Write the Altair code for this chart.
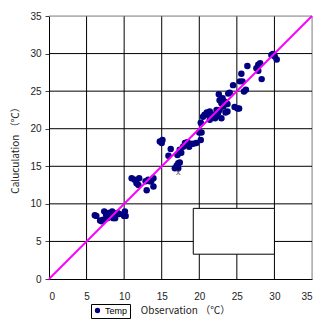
import altair as alt
import pandas as pd

obs = [6.1, 6.3, 6.8, 7.0, 7.2, 7.35, 7.6, 7.75, 7.9, 8.1, 8.4, 8.55, 8.6, 8.8, 9.1, 9.35, 10.0, 10.1, 10.2,
       11.0, 11.4, 11.65, 11.9, 12.0, 12.85, 13.0, 13.2, 13.4, 13.6, 13.9, 13.9,
       14.75, 15.0, 15.1,
       15.9, 16.2, 16.75, 17.0, 17.2, 17.2, 17.4, 17.1, 17.6, 17.4, 17.85, 18.1, 18.4, 18.65, 18.8, 19.2, 19.6,
       20.0, 20.3, 20.2,
       20.2, 20.5, 20.7, 21.0, 21.2, 21.4, 21.4, 21.6, 21.85, 22.1, 22.2, 22.3, 22.5, 22.6, 22.7, 22.7, 22.95,
       22.95, 23.1, 23.2, 23.4, 23.5, 23.75, 23.75, 23.85, 24.05,
       24.7, 25.1, 25.3, 24.5, 25.4, 25.6, 25.75, 25.95, 26.2, 26.4,
       27.6, 27.85, 28.1, 27.85, 28.3, 29.6, 29.8, 30.05, 30.3]
calc = [8.5, 8.4, 7.8, 7.7, 7.9, 9.0, 8.55, 8.1, 8.8, 8.3, 9.0, 8.1, 8.3, 8.1, 8.8, 8.65, 8.4, 9.0, 8.4,
        13.4, 13.2, 12.75, 12.5, 13.4, 13.0, 11.8, 13.2, 13.0, 13.0, 13.4, 12.3,
        18.3, 18.1, 18.5,
        16.4, 17.3, 14.75, 15.1, 15.4, 14.75, 15.5, 16.5, 16.8, 17.2, 17.6, 18.1, 18.2, 17.6, 18.0, 18.0, 18.1,
        19.5, 19.5, 18.5,
        20.8, 21.6, 21.85, 22.15, 21.85, 22.3, 21.2, 21.6, 21.85, 21.4, 21.6, 22.5, 22.1, 24.6, 23.8, 22.5, 23.4,
        21.4, 24.05, 22.95, 23.6, 22.15, 23.3, 22.3, 24.7, 24.8,
        22.9, 22.7, 22.7, 25.8, 26.3, 27.3, 26.3, 24.95, 25.2, 28.35,
        28.05, 28.5, 28.7, 27.7, 26.6, 29.8, 29.95, 29.6, 29.2]

series = ["Temp"] * len(obs)
line_vals = [0, 35]
box_x = [19.2]
box_x2 = [30.0]
box_y = [3.3]
box_y2 = [9.4]
cross_x = [17.2]
cross_y = [14.3]
ticks = [0, 5, 10, 15, 20, 25, 30, 35]
grid_vals = [5, 10, 15, 20, 25, 30, 35]
grid_cols = ["#000000", "#000000", "#000000", "#000000", "#000000", "#000000", "#8a8a8a"]

df = pd.DataFrame({"obs": obs, "calc": calc, "series": series})
line_df = pd.DataFrame({"obs": line_vals, "calc": line_vals})
box_df = pd.DataFrame({"obs": box_x, "obs2": box_x2, "calc": box_y, "calc2": box_y2})
cross_df = pd.DataFrame({"obs": cross_x, "calc": cross_y, "t": ["x"]})
grid_df = pd.DataFrame({"v": grid_vals, "c": grid_cols})

xscale = alt.Scale(domain=[0, 35], nice=False)
yscale = alt.Scale(domain=[0, 35], nice=False)

xaxis = alt.Axis(values=ticks, title="Observation （℃）", grid=False, domainColor="#000000",
                 tickSize=0, labelPadding=12, titlePadding=4, labelOverlap=False, titleX=136,
                 labelFont="Liberation Sans", labelFontSize=10, labelColor="#222222",
                 titleFont="Noto Sans CJK JP", titleFontSize=10, titleFontWeight="normal", titleColor="#222222")
yaxis = alt.Axis(values=ticks, title="Caluculation （℃）", grid=False, domainColor="#000000",
                 tickSize=4, tickColor="#444444", labelPadding=4, titlePadding=9, labelOverlap=False,
                 labelFont="Liberation Sans", labelFontSize=10, labelColor="#222222",
                 titleFont="Noto Sans CJK JP", titleFontSize=10, titleFontWeight="normal", titleColor="#222222")

X = alt.X("obs:Q", scale=xscale, axis=xaxis)
Y = alt.Y("calc:Q", scale=yscale, axis=yaxis)

vgrid = alt.Chart(grid_df).mark_rule(strokeWidth=1).encode(
    x=alt.X("v:Q", scale=xscale, axis=xaxis),
    color=alt.Color("c:N", scale=None),
)
hgrid = alt.Chart(grid_df).mark_rule(strokeWidth=1).encode(
    y=alt.Y("v:Q", scale=yscale, axis=yaxis),
    color=alt.Color("c:N", scale=None),
)

box = alt.Chart(box_df).mark_rect(fill="#ffffff", stroke="#000000", strokeWidth=1).encode(
    x=X, x2="obs2:Q", y=Y, y2="calc2:Q"
)

points = alt.Chart(df).mark_circle(size=42, opacity=1).encode(
    x=X, y=Y,
    color=alt.Color("series:N", scale=alt.Scale(domain=["Temp"], range=["#000080"]),
                    legend=alt.Legend(title=None, orient="none", legendX=42, legendY=288,
                                      strokeColor="#000000", padding=2, symbolType="circle",
                                      symbolSize=28, labelFontSize=9, labelFont="Liberation Sans",
                                      labelOffset=3, labelColor="#000000", fillColor="#ffffff")),
)

cross = alt.Chart(cross_df).mark_text(fontSize=9, color="#555555", font="Liberation Sans").encode(
    x=X, y=Y, text="t:N"
)

line = alt.Chart(line_df).mark_line(color="#FF00FF", strokeWidth=2).encode(x=X, y=Y)

chart = alt.layer(vgrid, hgrid, box, points, cross, line).resolve_scale(color="independent").properties(
    width=263, height=263,
    autosize=alt.AutoSizeParams(type="none"),
    padding={"left": 41, "top": 8, "right": 14, "bottom": 40},
).configure_view(stroke=None).configure(background="#ffffff")

chart.save("out.html", embed_options={"renderer": "svg", "actions": False})
